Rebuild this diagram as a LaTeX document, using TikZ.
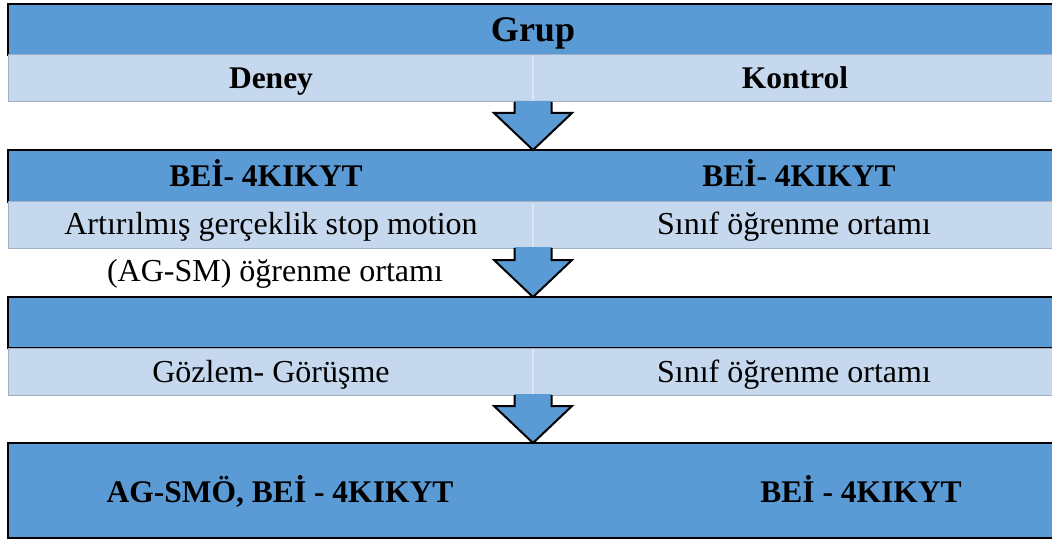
\documentclass[tikz,border=0pt]{standalone}
\usepackage{fontspec}
\setmainfont{Liberation Serif}
\usetikzlibrary{calc}
\definecolor{darkb}{RGB}{91,155,213}
\definecolor{lightb}{RGB}{197,216,237}
\definecolor{lightedge}{RGB}{160,175,195}
\definecolor{divider}{RGB}{220,230,243}
\tikzset{
  x=1pt, y=-1pt,
  darkrow/.style={draw=black, line width=2.2pt, fill=darkb, minimum width=1070pt, anchor=north west, inner sep=0pt, outer sep=0pt},
  lightrow/.style={draw=lightedge, line width=1pt, fill=lightb, minimum width=1070pt, anchor=north west, inner sep=0pt, outer sep=0pt},
  hdr/.style={font=\fontsize{31.5}{36}\selectfont\bfseries, anchor=base, inner sep=0pt},
  big/.style={font=\fontsize{36}{40}\selectfont\bfseries, anchor=base, inner sep=0pt},
  txt/.style={font=\fontsize{32}{36}\selectfont, anchor=base, inner sep=0pt},
  blockarr/.style={draw=black, line width=2pt, line join=miter},
  divline/.style={draw=divider, line width=1.5pt}
}
\newcommand\blockarrow[2]{%
  \fill[darkb] let \p1=(ax |- #1.south), \p2=(ax |- #2.north) in
    (\x1-18.5pt,\y1+1pt) -- (\x1-18.5pt,\y2+37pt) -- (\x1-39pt,\y2+37pt) -- (\x2,\y2) -- (\x1+39pt,\y2+37pt) -- (\x1+18.5pt,\y2+37pt) -- (\x1+18.5pt,\y1+1pt) -- cycle;
  \draw[blockarr] let \p1=(ax |- #1.south), \p2=(ax |- #2.north) in
    (\x1-18.5pt,\y1) -- (\x1-18.5pt,\y2+37pt) -- (\x1-39pt,\y2+37pt) -- (\x2,\y2) -- (\x1+39pt,\y2+37pt) -- (\x1+18.5pt,\y2+37pt) -- (\x1+18.5pt,\y1);
}
\begin{document}
\begin{tikzpicture}
\useasboundingbox (0,0) rectangle (1052,540);
\fill[white] (0,0) rectangle (1052,540);
\clip (0,0) rectangle (1052,540);
\coordinate (ax) at (533,0);

% rows
\node[darkrow, minimum height=51pt] (r1) at (8,4) {};
\node[lightrow, minimum height=47pt] (r2) at (8,55) {};
\node[darkrow, minimum height=52pt] (r3) at (8,150) {};
\node[lightrow, minimum height=46pt] (r4) at (8,202) {};
\node[darkrow, minimum height=51pt] (r5) at (8,297) {};
\node[lightrow, minimum height=47pt] (r6) at (8,348) {};
\node[darkrow, minimum height=95pt] (r7) at (8,443) {};

% dividers in light rows
\draw[divline] ([yshift=-1pt]ax |- r2.north) -- ([yshift=1pt]ax |- r2.south);
\draw[divline] ([yshift=-1pt]ax |- r4.north) -- ([yshift=1pt]ax |- r4.south);
\draw[divline] ([yshift=-1pt]ax |- r6.north) -- ([yshift=1pt]ax |- r6.south);

% block arrows
\blockarrow{r2}{r3}
\blockarrow{r4}{r5}
\blockarrow{r6}{r7}

% texts
\node[big] (grup) at (533,42) {Grup};
\node[hdr] (deney) at (271,89) {Deney};
\node[hdr] (kontrol) at (795,89) {Kontrol};
\node[hdr] (bei1) at (266,187) {BEİ- 4KIKYT};
\node[hdr] (bei2) at (799,187) {BEİ- 4KIKYT};
\node[txt] (ag1) at (271,234) {Artırılmış gerçeklik stop motion};
\node[txt] (sin1) at (794,234) {Sınıf öğrenme ortamı};
\node[txt] (ag2) at (275,281) {(AG-SM) öğrenme ortamı};
\node[txt] (goz) at (271,382) {Gözlem- Görüşme};
\node[txt] (sin2) at (794,382) {Sınıf öğrenme ortamı};
\node[hdr] (agsmo) at (280,502) {AG-SMÖ, BEİ - 4KIKYT};
\node[hdr] (bei3) at (861,502) {BEİ - 4KIKYT};
\end{tikzpicture}
\end{document}
